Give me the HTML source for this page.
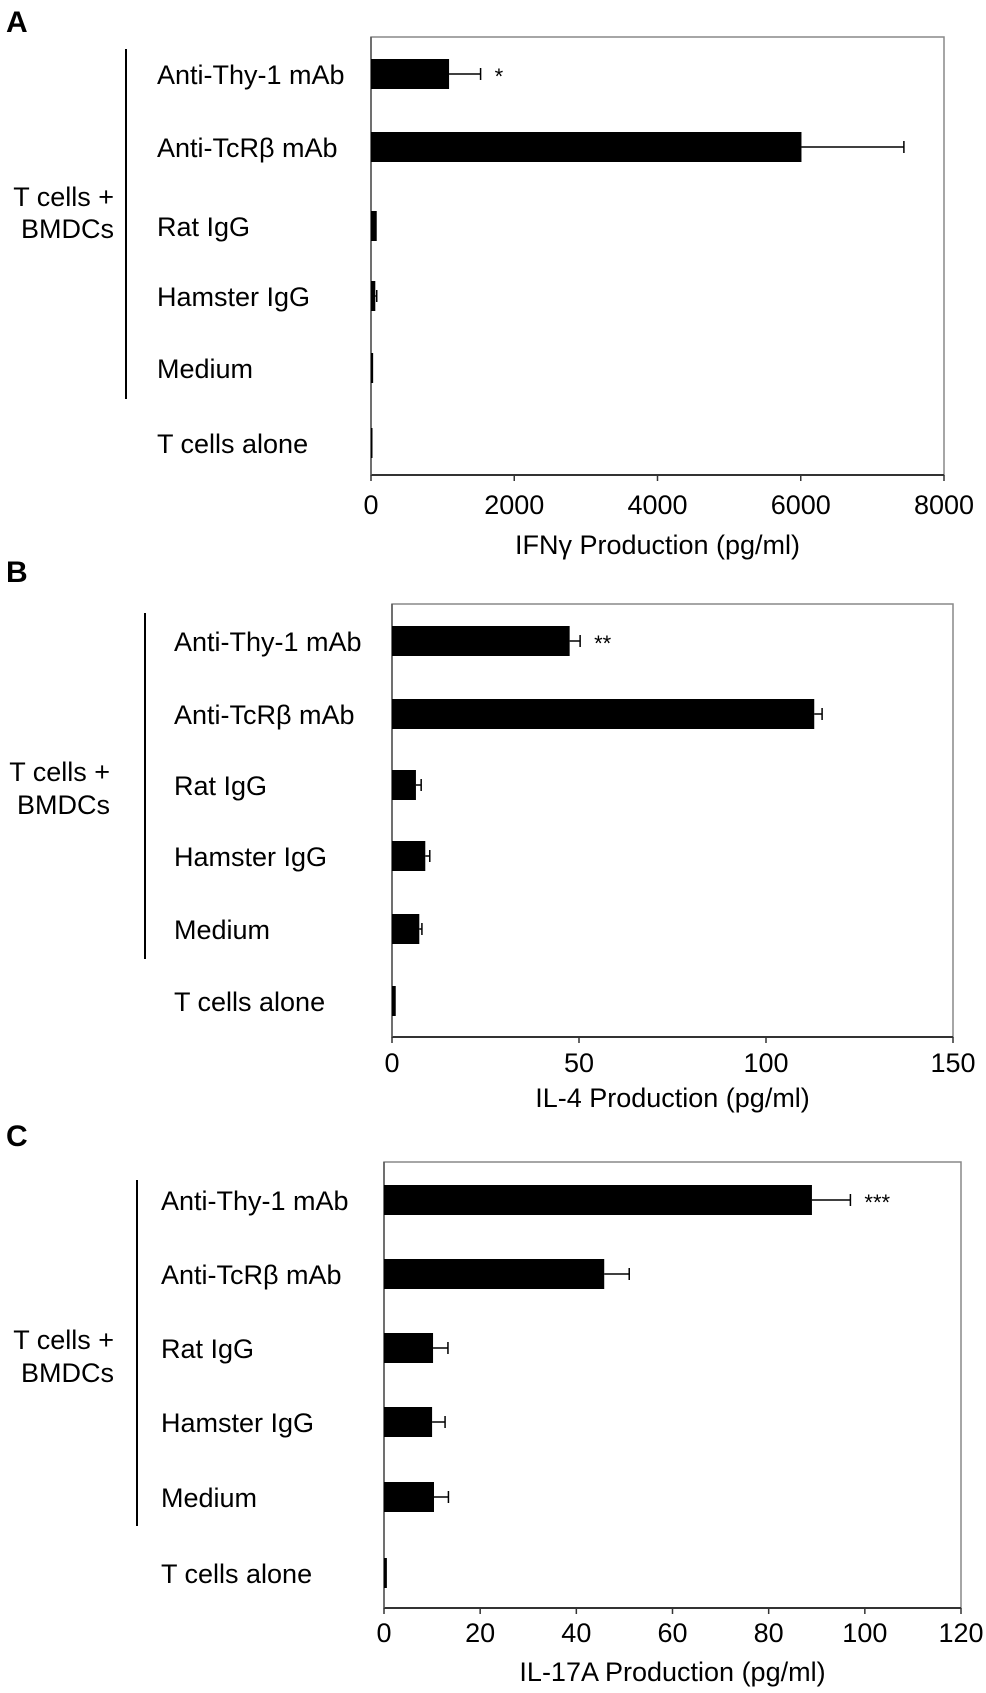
<!DOCTYPE html>
<html><head><meta charset="utf-8"><style>
body{margin:0;background:#fff}
svg{display:block;font-family:"Liberation Sans",Arial,sans-serif}
</style></head><body>
<svg id="fig" width="986" height="1693" viewBox="0 0 986 1693"></svg>
<script>
const categories = ["Anti-Thy-1 mAb","Anti-TcRβ mAb","Rat IgG","Hamster IgG","Medium","T cells alone"];
const ifngValues = [1090, 6010, 80, 60, 30, 5];
const ifngErrors = [440, 1430, 0, 20, 0, 0];
const ifngTicks = [0, 2000, 4000, 6000, 8000];
const il4Values = [47.5, 112.9, 6.4, 8.9, 7.3, 1.0];
const il4Errors = [2.8, 2.1, 1.4, 1.2, 0.7, 0];
const il4Ticks = [0, 50, 100, 150];
const il17Values = [89, 45.8, 10.2, 10, 10.4, 0.6];
const il17Errors = [8, 5.2, 3.1, 2.7, 3.0, 0];
const il17Ticks = [0, 20, 40, 60, 80, 100, 120];
const sigMarks = [["*","","","","",""],["**","","","","",""],["***","","","","",""]];

const NS = "http://www.w3.org/2000/svg";
const svg = document.getElementById('fig');
function mk(tag, attrs, parent){const e=document.createElementNS(NS,tag);for(const k in attrs)e.setAttribute(k,attrs[k]);(parent||svg).appendChild(e);return e;}
const FS = 27;

const panels = [
 {letter:"A", ly:32, left:371,right:944,top:37,bottom:475,max:8000,ticks:ifngTicks,vals:ifngValues,errs:ifngErrors,rows:[74,147,226,296,368,443],labelX:157,brX:126,brY1:49,brY2:399,tcY:[196,228],tcX:114,tickY:514,title:"IFNγ Production (pg/ml)",titleY:554,sig:sigMarks[0]},
 {letter:"B", ly:582, left:392,right:953,top:604,bottom:1037,max:150,ticks:il4Ticks,vals:il4Values,errs:il4Errors,rows:[641,714,785,856,929,1001],labelX:174,brX:145,brY1:613,brY2:959,tcY:[771,804],tcX:110,tickY:1072,title:"IL-4 Production (pg/ml)",titleY:1107,sig:sigMarks[1]},
 {letter:"C", ly:1146, left:384,right:961,top:1162,bottom:1608,max:120,ticks:il17Ticks,vals:il17Values,errs:il17Errors,rows:[1200,1274,1348,1422,1497,1573],labelX:161,brX:137,brY1:1180,brY2:1526,tcY:[1339,1372],tcX:114,tickY:1642,title:"IL-17A Production (pg/ml)",titleY:1681,sig:sigMarks[2]}
];

panels.forEach((p,pi)=>{
  const g = mk('g',{});
  
  
  const xs = v => p.left + (v/p.max)*(p.right-p.left);
  let t = mk('text',{x:6,y:p.ly,'font-size':30,'font-weight':'bold'},g); t.textContent=p.letter;
   
  let fr = mk('rect',{x:p.left,y:p.top,width:p.right-p.left,height:p.bottom-p.top,fill:'none',stroke:'#888','stroke-width':1.5},g);
   
  let ax = mk('line',{x1:p.left,y1:p.bottom,x2:p.right,y2:p.bottom,stroke:'#333','stroke-width':2},g);
   
  let ay = mk('line',{x1:p.left,y1:p.top,x2:p.left,y2:p.bottom,stroke:'#555','stroke-width':1.5},g);
   
  p.ticks.forEach(tv=>{
    const x=xs(tv);
    mk('line',{x1:x,y1:p.bottom,x2:x,y2:p.bottom+6,stroke:'#333','stroke-width':1.5},g);
    const tl = mk('text',{x:x,y:p.tickY,'font-size':FS,'text-anchor':'middle'},g); tl.textContent=tv;
     
  });
  const tt = mk('text',{x:(p.left+p.right)/2,y:p.titleY,'font-size':FS,'text-anchor':'middle'},g); tt.textContent=p.title;
   
  const br = mk('line',{x1:p.brX,y1:p.brY1,x2:p.brX,y2:p.brY2,stroke:'#000','stroke-width':2},g);
   
  ["T cells +","BMDCs"].forEach((s,i)=>{
    const e = mk('text',{x:p.tcX,y:p.tcY[i]+10,'font-size':FS,'text-anchor':'end'},g); e.textContent=s;
     
  });
  categories.forEach((c,i)=>{
    const cy=p.rows[i];
    const lb = mk('text',{x:p.labelX,y:cy+10,'font-size':FS},g); lb.textContent=c;
     
    const w = Math.max(xs(p.vals[i])-p.left,1.5);
    const b = mk('rect',{x:p.left,y:cy-15,width:w,height:30,fill:'#000'},g);
     
    if(p.errs[i]>0){
      const x1=xs(p.vals[i]), x2=xs(p.vals[i]+p.errs[i]);
      const el = mk('path',{d:`M${x1},${cy} H${x2} M${x2},${cy-6} V${cy+6}`,stroke:'#000','stroke-width':1.5,fill:'none'},g);
       
    }
    if(p.sig[i]){
      const s = mk('text',{x:xs(p.vals[i]+p.errs[i])+14,y:cy+10,'font-size':22},g); s.textContent=p.sig[i];
       
    }
  });
});
</script>
</body></html>
